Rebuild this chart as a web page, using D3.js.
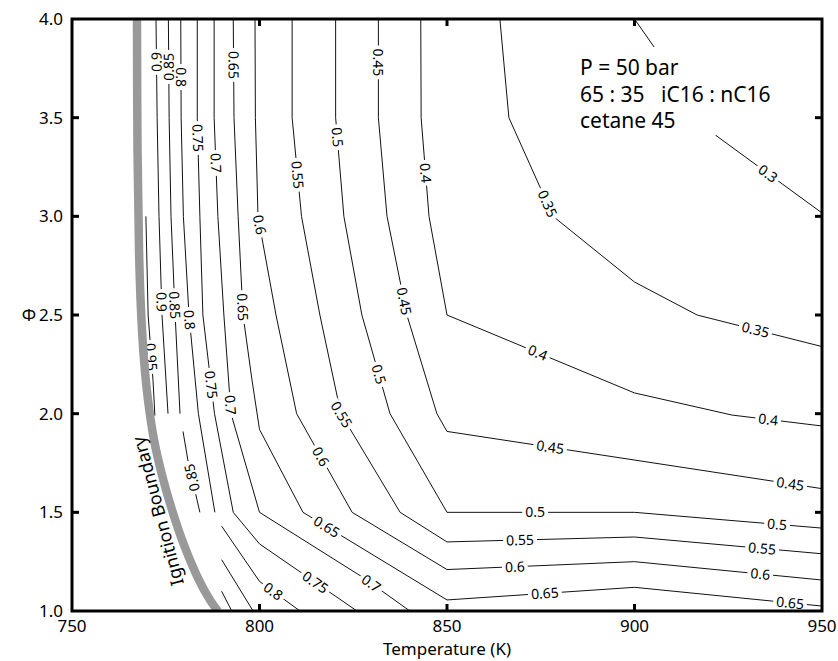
<!DOCTYPE html>
<html>
<head>
<meta charset="utf-8">
<script src="https://cdn.jsdelivr.net/npm/d3@7"></script>
<style>
  body { margin: 0; background: #fff; }
  text { font-family: "Noto Sans", "Open Sans", sans-serif; fill: #000; }
</style>
</head>
<body>
<svg id="chart" width="838" height="661"></svg>
<script>
// axis ticks
const xTicks = [750, 800, 850, 900, 950];
const yTicks = [1.0, 1.5, 2.0, 2.5, 3.0, 3.5, 4.0];

// ignition boundary (T, phi)
const boundary = [[767.33, 4.0], [767.47, 3.336], [767.87, 2.829], [768.4, 2.525], [769.2, 2.272],
  [770.27, 2.069], [771.87, 1.867], [774.0, 1.689], [776.67, 1.512], [779.87, 1.334],
  [783.6, 1.167], [786.8, 1.056], [788.93, 1.0]];

// iso-lines, each [T, phi]
const iso095 = [[769.7, 3.0], [770.3, 2.5], [771.6, 2.17], [772.1, 1.99]];
const iso090 = [[772.4, 4.0], [772.7, 3.5], [773.2, 3.0], [774.0, 2.5], [775.6, 2.0]];
const iso090b = [[789.9, 1.1], [792.6, 1.0]];
const iso085 = [[775.7, 4.0], [775.9, 3.5], [776.4, 3.0], [777.5, 2.5], [778.8, 2.0]];
const iso085b = [[779.6, 1.91], [780.9, 1.765], [784.1, 1.5]];
const iso085c = [[789.9, 1.26], [798.3, 1.0]];
const iso080 = [[779.0, 4.0], [779.1, 3.5], [779.7, 3.0], [781.2, 2.5], [783.7, 2.0], [788.1, 1.5]];
const iso080b = [[789.9, 1.43], [800.0, 1.15], [810.8, 1.0]];
const iso075 = [[783.4, 4.0], [783.4, 3.5], [784.1, 3.0], [784.9, 2.5], [788.0, 2.0], [793.0, 1.5], [800.0, 1.34], [826.0, 1.0]];
const iso070 = [[787.9, 4.0], [787.9, 3.5], [788.9, 3.0], [790.5, 2.5], [792.4, 2.0], [800.0, 1.5], [827.6, 1.17], [840.1, 1.0]];
const iso065 = [[793.0, 4.0], [793.2, 3.5], [794.3, 3.0], [795.6, 2.5], [798.0, 2.17], [800.0, 1.92], [811.6, 1.5], [850, 1.056], [900, 1.12], [950, 1.025]];
const iso060 = [[798.8, 4.0], [798.9, 3.5], [799.6, 3.0], [804.4, 2.5], [809.9, 2.0], [824.7, 1.5], [850, 1.21], [900, 1.25], [950, 1.157]];
const iso055 = [[808.7, 4.0], [808.7, 3.5], [811.2, 3.0], [816.1, 2.5], [821.7, 2.0], [837.5, 1.5], [850, 1.35], [900, 1.375], [950, 1.29]];
const iso050 = [[820.3, 4.0], [820.3, 3.5], [822.5, 3.0], [827.3, 2.5], [834.8, 2.0], [850, 1.5], [900, 1.5], [950, 1.42]];
const iso045 = [[831.7, 4.0], [831.7, 3.5], [834.0, 3.0], [839.3, 2.5], [847.3, 2.0], [850, 1.91], [950, 1.62]];
const iso040 = [[843.0, 4.0], [843.1, 3.5], [845.2, 3.0], [850, 2.5], [900, 2.105], [926, 1.993], [950, 1.9375]];
const iso035 = [[864.1, 4.0], [866.5, 3.5], [878.3, 3.0], [900, 2.667], [916.7, 2.5], [950, 2.34]];
const iso030 = [[900, 4.0], [921.7, 3.41], [950, 3.017]];

// label spots: [level, T, phi, flipped]
const labelSpots = [
  [0.95, 771.1, 2.287, 0], [0.9, 772.4, 3.782, 1], [0.85, 775.7, 3.757, 1], [0.8, 778.8, 3.706, 0],
  [0.75, 782.8, 3.397, 0], [0.7, 787.9, 3.27, 0], [0.65, 792.6, 3.767, 0], [0.6, 799.7, 2.956, 0],
  [0.55, 809.9, 3.21, 0], [0.5, 820.3, 3.40, 0], [0.45, 831.4, 3.78, 0], [0.4, 844.1, 3.22, 0],
  [0.35, 877.5, 3.07, 0], [0.3, 935.3, 3.21, 0],
  [0.9, 773.5, 2.566, 0], [0.85, 777.0, 2.55, 0], [0.8, 781.3, 2.475, 0], [0.65, 795.3, 2.54, 0],
  [0.75, 786.3, 2.145, 0], [0.7, 792.6, 2.044, 0], [0.6, 816.1, 1.78, 0], [0.55, 822.3, 2.0, 0],
  [0.5, 831.3, 2.196, 0], [0.45, 837.5, 2.566, 0], [0.85, 781.5, 1.674, 1],
  [0.65, 817.9, 1.426, 0], [0.8, 803.3, 1.091, 0], [0.75, 814.4, 1.132, 0], [0.7, 829.5, 1.132, 0],
  [0.65, 876.1, 1.091, 0], [0.6, 868.1, 1.218, 0], [0.55, 869.5, 1.35, 0], [0.5, 873.5, 1.497, 0],
  [0.45, 877.5, 1.83, 0], [0.4, 874.0, 2.30, 0],
  [0.35, 932.1, 2.414, 0], [0.4, 935.6, 1.963, 0], [0.45, 941.5, 1.64, 0], [0.5, 938.0, 1.43, 0],
  [0.55, 934.0, 1.31, 0], [0.6, 933.5, 1.18, 0], [0.65, 941.5, 1.046, 0]
];

const noteLines = ["P = 50 bar", "65 : 35   iC16 : nC16", "cetane 45"];

const contours = [
  { level: 0.95, pts: iso095 }, { level: 0.9, pts: iso090 }, { level: 0.9, pts: iso090b },
  { level: 0.85, pts: iso085 }, { level: 0.85, pts: iso085b }, { level: 0.85, pts: iso085c },
  { level: 0.8, pts: iso080 }, { level: 0.8, pts: iso080b }, { level: 0.75, pts: iso075 },
  { level: 0.7, pts: iso070 }, { level: 0.65, pts: iso065 }, { level: 0.6, pts: iso060 },
  { level: 0.55, pts: iso055 }, { level: 0.5, pts: iso050 }, { level: 0.45, pts: iso045 },
  { level: 0.4, pts: iso040 }, { level: 0.35, pts: iso035 }, { level: 0.3, pts: iso030 }
];

const svg = d3.select("#chart");
const pL = 72, pR = 822, pT = 19, pB = 611;

const x = d3.scaleLinear().domain([750, 950]).range([pL, pR]);
const y = d3.scaleLinear().domain([1, 4]).range([pB, pT]);

svg.append("clipPath").attr("id", "plot")
  .append("rect").attr("x", pL).attr("y", pT)
  .attr("width", pR - pL).attr("height", pB - pT);

const plot = svg.append("g").attr("clip-path", "url(#plot)");

const line = d3.line().x(d => x(d[0])).y(d => y(d[1]));

plot.append("g")
  .selectAll("path")
  .data(contours)
  .join("path")
  .attr("d", d => line(d.pts))
  .attr("fill", "none")
  .attr("stroke", "#111")
  .attr("stroke-width", 1);

// find where a label sits on its line and which way it points
function snap(level, px, py) {
  let best = null;
  contours.filter(c => c.level === level).forEach(c => {
    const p = c.pts.map(d => [x(d[0]), y(d[1])]);
    for (let i = 0; i < p.length - 1; i++) {
      const dx = p[i + 1][0] - p[i][0], dy = p[i + 1][1] - p[i][1];
      let t = ((px - p[i][0]) * dx + (py - p[i][1]) * dy) / (dx * dx + dy * dy);
      t = Math.max(0, Math.min(1, t));
      const qx = p[i][0] + t * dx, qy = p[i][1] + t * dy;
      const dist = Math.hypot(px - qx, py - qy);
      if (!best || dist < best.dist) {
        best = { dist: dist, x: qx, y: qy, ang: Math.atan2(dy, dx) * 180 / Math.PI };
      }
    }
  });
  return best;
}

const labels = labelSpots.map(s => {
  const b = snap(s[0], x(s[1]), y(s[2]));
  let a = b.ang;
  if (a > 90) a -= 180;
  if (a <= -90) a += 180;
  if (s[3]) a -= 180;
  return { text: String(s[0]), x: b.x, y: b.y, ang: a };
});

const labelG = plot.append("g")
  .selectAll("g")
  .data(labels)
  .join("g")
  .attr("transform", d => `translate(${d.x},${d.y}) rotate(${d.ang})`);

const labelBg = labelG.append("rect").attr("fill", "#fff");

// ignition boundary
plot.append("path")
  .attr("d", d3.line().x(d => x(d[0])).y(d => y(d[1])).curve(d3.curveCatmullRom)(boundary))
  .attr("fill", "none")
  .attr("stroke", "#999")
  .attr("stroke-width", 8.5);

const labelText = labelG.append("text")
  .attr("text-anchor", "middle")
  .attr("dy", "0.36em")
  .style("font-size", "14px")
  .text(d => d.text);

labelText.each(function (d) {
  d.w = this.getComputedTextLength();
});
labelBg
  .attr("x", d => -d.w / 2 - 3)
  .attr("y", -5)
  .attr("width", d => d.w + 6)
  .attr("height", 10);

svg.append("text")
  .attr("transform", `translate(158,511) rotate(-105)`)
  .attr("text-anchor", "middle")
  .attr("dy", "0.35em")
  .style("font-size", "18px")
  .text("Ignition Boundary");

// note box
svg.append("rect")
  .attr("x", 574).attr("y", 47).attr("width", 212).attr("height", 88)
  .attr("fill", "#fff");

svg.append("g")
  .selectAll("text")
  .data(noteLines)
  .join("text")
  .attr("x", 580)
  .attr("y", (d, i) => 75 + i * 26.5)
  .style("font-size", "21px")
  .style("white-space", "pre")
  .text(d => d);

// frame and ticks
svg.append("rect")
  .attr("x", pL).attr("y", pT)
  .attr("width", pR - pL).attr("height", pB - pT)
  .attr("fill", "none").attr("stroke", "#000").attr("stroke-width", 3);

const innerX = xTicks.slice(1, -1);
svg.append("g").selectAll("line").data(innerX).join("line")
  .attr("x1", d => x(d)).attr("x2", d => x(d))
  .attr("y1", pB).attr("y2", pB - 7)
  .attr("stroke", "#000").attr("stroke-width", 3);
svg.append("g").selectAll("line").data(innerX).join("line")
  .attr("x1", d => x(d)).attr("x2", d => x(d))
  .attr("y1", pT).attr("y2", pT + 7)
  .attr("stroke", "#000").attr("stroke-width", 3);

const innerY = yTicks.slice(1, -1);
svg.append("g").selectAll("line").data(innerY).join("line")
  .attr("x1", pL).attr("x2", pL + 7)
  .attr("y1", d => y(d)).attr("y2", d => y(d))
  .attr("stroke", "#000").attr("stroke-width", 3);
svg.append("g").selectAll("line").data(innerY).join("line")
  .attr("x1", pR).attr("x2", pR - 7)
  .attr("y1", d => y(d)).attr("y2", d => y(d))
  .attr("stroke", "#000").attr("stroke-width", 3);

svg.append("g").selectAll("text").data(xTicks).join("text")
  .attr("x", d => x(d)).attr("y", 632)
  .attr("text-anchor", "middle")
  .style("font-size", "17px")
  .text(d => d);

svg.append("g").selectAll("text").data(yTicks).join("text")
  .attr("x", 63).attr("y", d => y(d))
  .attr("text-anchor", "end")
  .attr("dy", "0.35em")
  .style("font-size", "17px")
  .text(d => d3.format(".1f")(d));

svg.append("text")
  .attr("x", x(850)).attr("y", 655)
  .attr("text-anchor", "middle")
  .style("font-size", "17px")
  .text("Temperature (K)");

svg.append("text")
  .attr("x", 29).attr("y", y(2.5))
  .attr("text-anchor", "middle")
  .attr("dy", "0.35em")
  .style("font-size", "17px")
  .text("Φ");
</script>
</body>
</html>
